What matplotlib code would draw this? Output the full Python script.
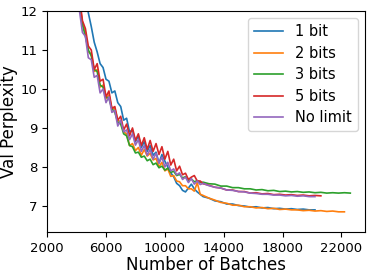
import numpy as np
import matplotlib
matplotlib.use('Agg')
import matplotlib.pyplot as plt

# batch grid: every 200 up to 12600, then every 400
batches = list(range(3800, 12601, 200)) + list(range(13000, 22601, 400))

bit1 = [14.0, 13.5, 13.25, 12.7, 12.4, 11.95, 11.6, 11.2, 10.95, 10.65,
        10.55, 10.25, 10.2, 9.9, 9.95, 9.65, 9.55, 9.2, 9.25, 8.9,
        8.95, 8.65, 8.8, 8.5, 8.65, 8.4, 8.55, 8.3, 8.38, 8.1,
        8.32, 8.15, 8.0, 7.85, 7.75, 7.58, 7.52, 7.4, 7.36, 7.46,
        7.56, 7.44, 7.36, 7.3, 7.24,
        7.2, 7.13, 7.11, 7.05, 7.05, 7.01, 7.0, 6.97, 6.98, 6.95,
        6.96, 6.93, 6.94, 6.92, 6.93, 6.91, 6.92, 6.9, 6.9]

bit2 = [13.1, 12.6, 12.25, 11.7, 11.45, 10.95, 10.9, 10.45, 10.5, 10.05,
        10.1, 9.75, 9.85, 9.5, 9.5, 9.2, 9.15, 8.9, 8.85, 8.55,
        8.6, 8.42, 8.5, 8.3, 8.45, 8.28, 8.35, 8.18, 8.22, 8.0,
        8.12, 7.9, 7.95, 7.76, 7.78, 7.64, 7.62, 7.52, 7.52, 7.44,
        7.44, 7.38, 7.6, 7.3, 7.27,
        7.2, 7.15, 7.09, 7.07, 7.02, 7.02, 6.98, 6.98, 6.95, 6.96,
        6.93, 6.94, 6.91, 6.92, 6.9, 6.9, 6.88, 6.89, 6.87, 6.88,
        6.86, 6.87, 6.85, 6.85]

bit3 = [13.0, 12.55, 12.2, 11.65, 11.35, 11.0, 10.85, 10.5, 10.45, 10.1,
        10.05, 9.8, 9.75, 9.5, 9.4, 9.15, 9.1, 8.85, 8.8, 8.55,
        8.52, 8.36, 8.38, 8.25, 8.28, 8.16, 8.2, 8.06, 8.1, 7.98,
        8.02, 7.92, 7.97, 7.86, 7.89, 7.78, 7.81, 7.72, 7.75, 7.66,
        7.69, 7.62, 7.65, 7.6, 7.61,
        7.57, 7.56, 7.51, 7.51, 7.47, 7.47, 7.44, 7.44, 7.41, 7.42,
        7.39, 7.4, 7.37, 7.38, 7.36, 7.37, 7.35, 7.36, 7.34, 7.35,
        7.33, 7.34, 7.33, 7.34, 7.33]

bit5 = [13.25, 12.75, 12.35, 11.75, 11.55, 11.1, 11.0, 10.5, 10.65, 10.2,
        10.25, 9.8, 9.95, 9.5, 9.55, 9.2, 9.3, 8.95, 9.1, 8.8,
        9.0, 8.68, 8.85, 8.55, 8.75, 8.45, 8.68, 8.4, 8.6, 8.32,
        8.52, 8.2, 8.4, 8.05, 8.2, 7.9, 8.02, 7.8, 7.84, 7.68,
        7.74, 7.78, 7.64, 7.64, 7.57,
        7.53, 7.48, 7.46, 7.41, 7.41, 7.37, 7.37, 7.33, 7.34, 7.31,
        7.32, 7.29, 7.3, 7.28, 7.29, 7.27, 7.28, 7.26, 7.27, 7.26]

nolimit = [12.9, 12.35, 12.0, 11.45, 11.35, 10.8, 10.75, 10.3, 10.35, 9.9,
           10.0, 9.65, 9.8, 9.4, 9.45, 9.05, 9.2, 8.9, 8.95, 8.7,
           8.85, 8.56, 8.7, 8.4, 8.55, 8.3, 8.45, 8.2, 8.35, 8.1,
           8.25, 8.0, 8.12, 7.9, 7.95, 7.8, 7.85, 7.68, 7.74, 7.6,
           7.7, 7.56, 7.64, 7.55, 7.58,
           7.52, 7.48, 7.46, 7.41, 7.4, 7.37, 7.36, 7.33, 7.32, 7.3,
           7.3, 7.28, 7.28, 7.26, 7.27, 7.25, 7.26, 7.24, 7.24]

series = [(bit1, '1 bit'), (bit2, '2 bits'), (bit3, '3 bits'),
          (bit5, '5 bits'), (nolimit, 'No limit')]

fig = plt.figure(figsize=(3.74, 2.75), dpi=100)
ax = fig.add_axes([0.126, 0.156, 0.85, 0.804])
for vals, name in series:
    ax.plot(batches[:len(vals)], vals, lw=1.2, label=name)

ax.set_xlim(2000, 23600)
ax.set_ylim(6.33, 12)
ax.set_xticks([2000, 6000, 10000, 14000, 18000, 22000])
ax.set_yticks([7, 8, 9, 10, 11, 12])
ax.tick_params(labelsize=9.5)
ax.set_xlabel('Number of Batches', fontsize=12, labelpad=1)
ax.set_ylabel('Val Perplexity', fontsize=12, labelpad=2)
ax.legend(loc='upper right', fontsize=10.5, handlelength=2.0,
          borderaxespad=0.5, labelspacing=0.45)
fig.savefig('out.png', dpi=100)
